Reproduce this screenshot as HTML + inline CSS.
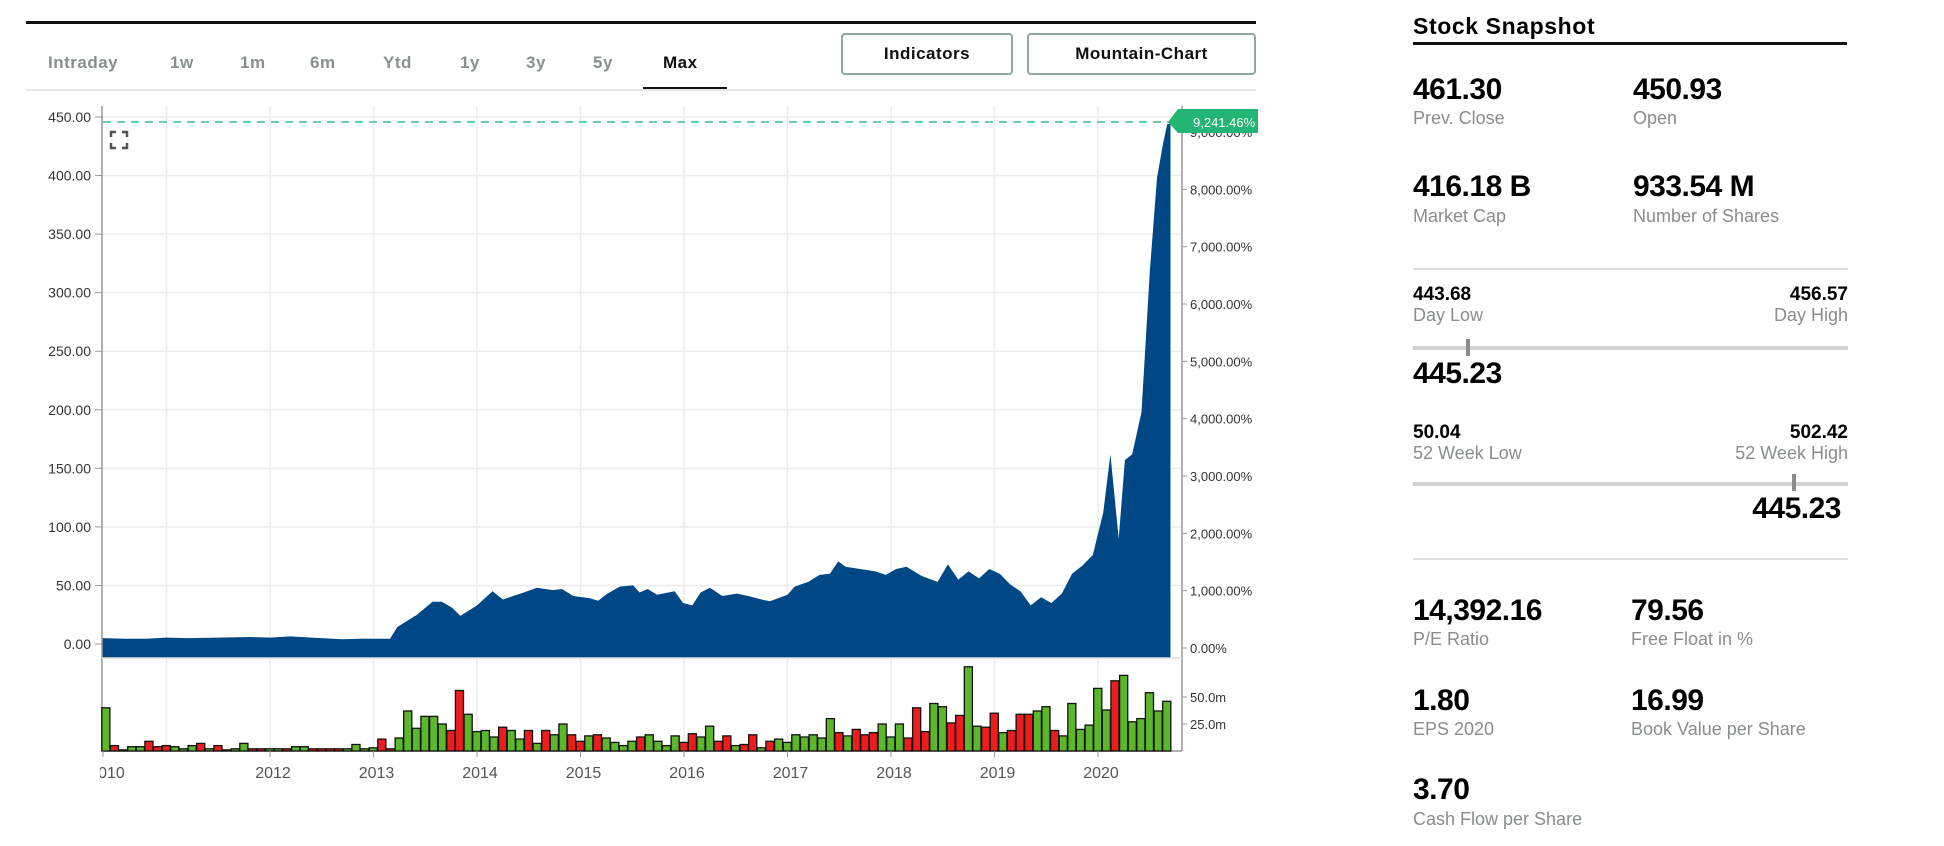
<!DOCTYPE html>
<html><head><meta charset="utf-8"><style>
body{margin:0;width:1944px;height:846px;background:#fff;font-family:"Liberation Sans",sans-serif;overflow:hidden;position:relative}
.abs{position:absolute;white-space:nowrap}
.tab{position:absolute;top:53px;font-size:17px;font-weight:bold;color:#8a8f8f;letter-spacing:0.5px}
.btn{position:absolute;top:33px;height:42px;border:2px solid #8fa8a3;border-radius:4px;box-sizing:border-box;font-weight:bold;font-size:17px;letter-spacing:0.5px;color:#111;text-align:center;line-height:38px}
.val{position:absolute;font-weight:bold;font-size:30px;color:#000;white-space:nowrap;letter-spacing:-0.5px}
.sval{position:absolute;font-weight:bold;font-size:19px;color:#000;white-space:nowrap}
.lab{position:absolute;font-size:18px;color:#8a8d8d;white-space:nowrap}
</style></head><body>
<div class="abs" style="left:26px;top:21px;width:1230px;height:3px;background:#111"></div>
<div class="tab" style="left:48px">Intraday</div>
<div class="tab" style="left:170px">1w</div>
<div class="tab" style="left:240px">1m</div>
<div class="tab" style="left:310px">6m</div>
<div class="tab" style="left:383px">Ytd</div>
<div class="tab" style="left:460px">1y</div>
<div class="tab" style="left:526px">3y</div>
<div class="tab" style="left:593px">5y</div>
<div class="tab" style="left:663px;color:#111">Max</div>
<div class="abs" style="left:26px;top:89px;width:1230px;height:2px;background:#e6e6e6"></div>
<div class="abs" style="left:643px;top:87px;width:84px;height:2px;background:#111"></div>
<div class="btn" style="left:841px;width:172px">Indicators</div>
<div class="btn" style="left:1027px;width:229px">Mountain-Chart</div>

<svg id="chart" width="1290" height="846" style="position:absolute;left:0;top:0" font-family="Liberation Sans, sans-serif"></svg>

<div class="abs" style="left:1413px;top:13px;font-size:23px;font-weight:bold;color:#000;letter-spacing:0.6px">Stock Snapshot</div>
<div class="abs" style="left:1413px;top:42px;width:434px;height:3px;background:#111"></div>
<div class="val" style="left:1413px;top:73px">461.30</div>
<div class="lab" style="left:1413px;top:108px">Prev. Close</div>
<div class="val" style="left:1633px;top:73px">450.93</div>
<div class="lab" style="left:1633px;top:108px">Open</div>
<div class="val" style="left:1413px;top:170px">416.18 B</div>
<div class="lab" style="left:1413px;top:206px">Market Cap</div>
<div class="val" style="left:1633px;top:170px">933.54 M</div>
<div class="lab" style="left:1633px;top:206px">Number of Shares</div>
<div class="abs" style="left:1413px;top:268px;width:435px;height:2px;background:#ddd"></div>

<div class="sval" style="left:1413px;top:284px">443.68</div>
<div class="lab" style="left:1413px;top:305px">Day Low</div>
<div class="sval" style="right:96px;top:284px">456.57</div>
<div class="lab" style="right:96px;top:305px">Day High</div>
<div class="abs" style="left:1413px;top:346px;width:435px;height:4px;background:#d2d2d2"></div>
<div class="abs" style="left:1466px;top:339px;width:4px;height:17px;background:#8a8d8d"></div>
<div class="val" style="left:1413px;top:357px">445.23</div>

<div class="sval" style="left:1413px;top:422px">50.04</div>
<div class="lab" style="left:1413px;top:443px">52 Week Low</div>
<div class="sval" style="right:96px;top:422px">502.42</div>
<div class="lab" style="right:96px;top:443px">52 Week High</div>
<div class="abs" style="left:1413px;top:482px;width:435px;height:4px;background:#d2d2d2"></div>
<div class="abs" style="left:1792px;top:474px;width:4px;height:17px;background:#8a8d8d"></div>
<div class="val" style="right:103px;top:492px">445.23</div>
<div class="abs" style="left:1413px;top:558px;width:435px;height:2px;background:#ddd"></div>

<div class="val" style="left:1413px;top:594px">14,392.16</div>
<div class="lab" style="left:1413px;top:629px">P/E Ratio</div>
<div class="val" style="left:1631px;top:594px">79.56</div>
<div class="lab" style="left:1631px;top:629px">Free Float in %</div>
<div class="val" style="left:1413px;top:684px">1.80</div>
<div class="lab" style="left:1413px;top:719px">EPS 2020</div>
<div class="val" style="left:1631px;top:684px">16.99</div>
<div class="lab" style="left:1631px;top:719px">Book Value per Share</div>
<div class="val" style="left:1413px;top:773px">3.70</div>
<div class="lab" style="left:1413px;top:809px">Cash Flow per Share</div>

<script>
const priceYears=[2010.38,2010.6,2010.8,2011.0,2011.2,2011.5,2011.8,2012.0,2012.2,2012.4,2012.7,2012.87,2013.0,2013.16,2013.23,2013.42,2013.57,2013.66,2013.76,2013.84,2014.0,2014.15,2014.25,2014.42,2014.58,2014.73,2014.82,2014.93,2015.09,2015.17,2015.26,2015.38,2015.51,2015.57,2015.65,2015.74,2015.91,2015.99,2016.08,2016.16,2016.25,2016.37,2016.51,2016.62,2016.75,2016.83,2017.0,2017.07,2017.2,2017.31,2017.41,2017.49,2017.56,2017.7,2017.85,2017.95,2018.05,2018.15,2018.3,2018.45,2018.55,2018.65,2018.75,2018.85,2018.95,2019.05,2019.15,2019.25,2019.35,2019.45,2019.55,2019.65,2019.75,2019.85,2019.95,2020.05,2020.12,2020.2,2020.26,2020.33,2020.42,2020.5,2020.57,2020.63,2020.67,2020.7];
const priceValues=[5,4.5,4.5,5.5,5,5.5,6,5.5,6.5,5.5,4,4.5,4.5,4.5,14.5,25,36,36,31,24,33,45,38,43,48,46,47,41,39,37,43,49,50,44,47,42,45,35,33,44,48,41,43,41,38,36.5,42,49,53,59,60,70.5,66,64,62,59,64,66,58,53,68,55,62,56,64,60,51,45,33,40,35,43,60,67,76,112,162,90,157,162,198,318,398,428,444,444];
const volStartYear=2010.375;
const volumes=[40,5,1,4,4,9,4,5,4,2,5,7,2,5,1,2,7,2,2,2,2,2,4,4,2,2,2,2,2,6,2,3,11,2,12,37,21,32,32,25,19,56,34,18,19,13,22,19,11,19,7,19,15,25,15,9,14,15,12,8,5,9,13,15,9,5,14,8,16,13,23,9,14,5,6,15,3,9,11,8,15,13,15,12,30,17,14,20,15,17,25,13,25,12,40,18,44,41,26,33,78,23,22,35,17,19,34,34,37,41,19,14,44,20,24,58,38,65,70,27,30,54,37,46];
const volUp=[1,0,1,1,1,0,0,0,1,1, 1,0,1,0,1,1,1,0,0,1, 1,0,1,1,0,0,0,0,1,1, 1,1,0,0,1,1,1,1,1,1, 0,0,1,1,1,1,0,1,1,0, 1,0,1,1,0,0,1,0,1,1, 1,1,0,1,1,1,1,0,0,1, 1,0,0,1,0,0,1,0,1,1, 1,1,1,1,1,0,1,0,0,0, 1,1,1,0,0,0,1,1,0,0, 1,1,0,0,1,0,0,0,1,1, 0,1,1,1,1,1,1,0,1,1, 1,1,1,1];
const priceTicks=[0,50,100,150,200,250,300,350,400,450];
const priceTickLabels=["0.00","50.00","100.00","150.00","200.00","250.00","300.00","350.00","400.00","450.00"];
const pctTicks=[0,1000,2000,3000,4000,5000,6000,7000,8000,9000];
const pctTickLabels=["0.00%","1,000.00%","2,000.00%","3,000.00%","4,000.00%","5,000.00%","6,000.00%","7,000.00%","8,000.00%","9,000.00%"];
const volTicks=[25,50];
const volTickLabels=["25.0m","50.0m"];
const yearTicks=[2012,2013,2014,2015,2016,2017,2018,2019,2020];
const lastPct="9,241.46%";

const NS="http://www.w3.org/2000/svg";
const svg=document.getElementById('chart');
function el(t,a,p){const e=document.createElementNS(NS,t);for(const k in a)e.setAttribute(k,a[k]);(p||svg).appendChild(e);return e;}
const L=103,R=1182,PT=106,PB=658,VB=751;
const x=yr=>270+(yr-2012)*103.5;
const yP=p=>644-p*(527/450);
const yPct=v=>648-v*0.05733;
const yV=v=>VB-v*(27/25);

for(let i=1;i<priceTicks.length;i++){
  const g=el('line',{x1:L,x2:R,y1:yP(priceTicks[i]),y2:yP(priceTicks[i]),stroke:'#ececec','stroke-width':1.5});
  
  
}
for(const yr of [2011].concat(yearTicks)){
  const g=el('line',{x1:x(yr),x2:x(yr),y1:PT,y2:VB,stroke:'#ececec','stroke-width':1.5});
  
  
}
let d='M'+x(priceYears[0])+','+PB;
priceYears.forEach((yr,i)=>{d+=' L'+x(yr).toFixed(1)+','+yP(priceValues[i]).toFixed(1);});
d+=' L'+x(priceYears[priceYears.length-1])+','+PB+' Z';
const area=el('path',{d:d,fill:'#004785'});


const lastY=yP(priceValues[priceValues.length-1])-2;
const dl=el('line',{x1:L,x2:1170,y1:lastY,y2:lastY,stroke:'#6dcfa6','stroke-width':2,'stroke-dasharray':'8,6'});


const ax1=el('line',{x1:L-1,x2:L-1,y1:PT,y2:VB,stroke:'#999','stroke-width':1.5});


const ax2=el('line',{x1:R,x2:R,y1:PT,y2:VB,stroke:'#999','stroke-width':1.5});


const ax3=el('line',{x1:L-1,x2:R,y1:PB,y2:PB,stroke:'#ddd','stroke-width':1.5});


const ax4=el('line',{x1:L-1,x2:R,y1:VB,y2:VB,stroke:'#999','stroke-width':1.5});


priceTicks.forEach((v,i)=>{
  const t=el('text',{x:91,y:yP(v)+5,'text-anchor':'end','font-size':14,fill:'#333'});
  t.textContent=priceTickLabels[i];
  
  
  el('line',{x1:95,x2:L-1,y1:yP(v),y2:yP(v),stroke:'#999'});
});
pctTicks.forEach((v,i)=>{
  const t=el('text',{x:R+8,y:yPct(v)+5,'font-size':13,fill:'#333'});
  t.textContent=pctTickLabels[i];
  
  
  el('line',{x1:R,x2:R+5,y1:yPct(v),y2:yPct(v),stroke:'#999'});
});
const tg=el('path',{d:`M1168,${lastY} L1178,109 L1258,109 L1258,133 L1178,133 Z`,fill:'#22b573'});


const tt=el('text',{x:1193,y:127,'font-size':13,fill:'#fff'});
tt.textContent=lastPct;


const ic=el('path',{d:'M111,137 v-5 h5 M122,132 h5 v5 M127,143 v5 h-5 M116,148 h-5 v-5',stroke:'#555','stroke-width':2.5,fill:'none'});


const bw=103.5/12;
volumes.forEach((v,i)=>{
  const x0=x(volStartYear+i/12);
  const r=el('rect',{x:x0.toFixed(1),y:yV(v).toFixed(1),width:(bw-0.5).toFixed(1),height:(VB-yV(v)).toFixed(1),fill:volUp[i]?'#5cb82a':'#ee1c1c',stroke:'#111','stroke-width':1.3});
  
  
});
volTicks.forEach((v,i)=>{
  const t=el('text',{x:R+8,y:yV(v)+5,'font-size':13,fill:'#333'});
  t.textContent=volTickLabels[i];
  
  
  el('line',{x1:R,x2:R+5,y1:yV(v),y2:yV(v),stroke:'#999'});
});
const clip=el('clipPath',{id:'xc'});el('rect',{x:100,y:750,width:1100,height:40},clip);
const t0=el('text',{x:107,y:778,'text-anchor':'middle','font-size':16,fill:'#555','clip-path':'url(#xc)'});
t0.textContent='2010';


el('line',{x1:L,x2:L,y1:VB,y2:VB+6,stroke:'#999'});
yearTicks.forEach(yr=>{
  const t=el('text',{x:x(yr)+3,y:778,'text-anchor':'middle','font-size':16,fill:'#555'});
  t.textContent=String(yr);
  
  
  el('line',{x1:x(yr),x2:x(yr),y1:VB,y2:VB+6,stroke:'#999'});
});
</script>
</body></html>
